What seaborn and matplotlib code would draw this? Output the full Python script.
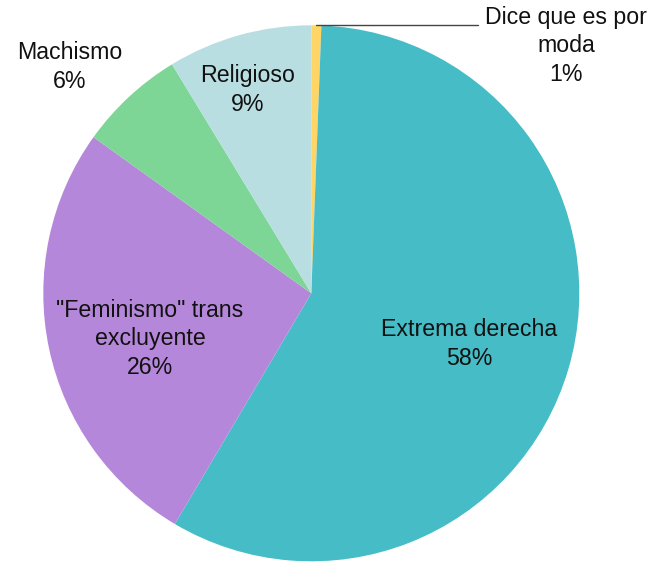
import matplotlib
matplotlib.use("Agg")
import matplotlib.pyplot as plt
import seaborn as sns

sns.set_theme(style="white")
plt.rcParams['font.family'] = ['Liberation Sans', 'DejaVu Sans']

categories = ["Dice que es por\nmoda", "Extrema derecha", "\"Feminismo\" trans\nexcluyente", "Machismo", "Religioso"]
values = [0.6, 57.9, 26.4, 6.4, 8.7]
colors = ["#FFD666", "#46BCC6", "#B587DA", "#7DD695", "#B9DEE2"]

W, H = 651, 562
cx, cy, R = 311.3, 293.3, 268.0

fig = plt.figure(figsize=(W / 100, H / 100), dpi=100)
ax = fig.add_axes([0, 0, 1, 1])
ax.pie(values, colors=colors, startangle=90, counterclock=False, radius=1,
       wedgeprops=dict(linewidth=0))
ax.set_aspect('auto')
ax.set_xlim(-cx / R, (W - cx) / R)
ax.set_ylim(-(H - cy) / R, cy / R)
ax.axis('off')

def d(px, py):
    return (px - cx) / R, -(py - cy) / R

total = sum(values)
label_px = [(566, 46), (469, 344), (150, 339), (70, 67), (248, 90)]
for cat, v, (px, py) in zip(categories, values, label_px):
    txt = f"{cat}\n{round(v / total * 100):.0f}%"
    x, y = d(px, py)
    ax.text(x, y, txt, ha='center', va='center', fontsize=16.7,
            color='#111111', linespacing=1.3)

# leader line for the small slice
x0, y0 = d(316, 25)
x1, y1 = d(478, 25)
ax.plot([x0, x1], [y0, y1], color='#444444', linewidth=1.0)

fig.savefig("out.png", dpi=100)
